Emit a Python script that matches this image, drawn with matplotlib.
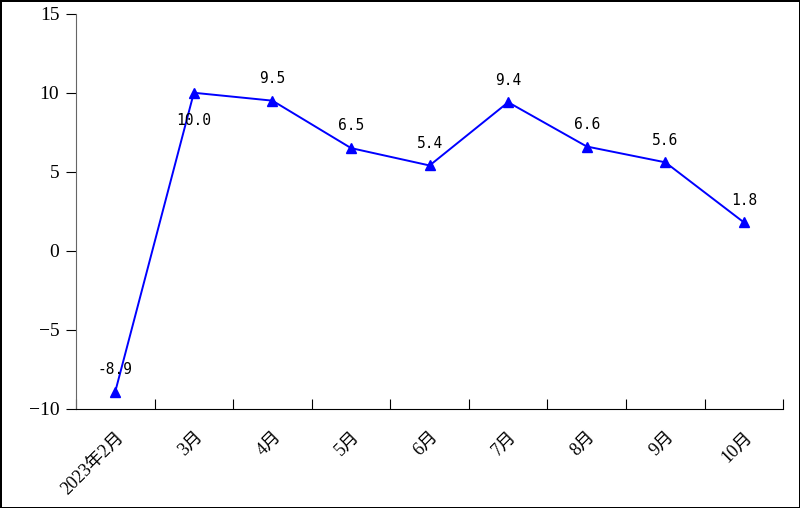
import matplotlib.pyplot as plt
import numpy as np

months = ["2023年2月", "3月", "4月", "5月", "6月", "7月", "8月", "9月", "10月"]
values = [-8.9, 10.0, 9.5, 6.5, 5.4, 9.4, 6.6, 5.6, 1.8]
yticks = [-10, -5, 0, 5, 10, 15]

plt.rcParams['font.family'] = ['Liberation Serif', 'Noto Sans CJK SC', 'DejaVu Sans']
plt.rcParams['axes.unicode_minus'] = True

fig = plt.figure(figsize=(8, 5.08), dpi=100)
fig.patch.set_edgecolor('black')
fig.patch.set_linewidth(2)

ax = fig.add_axes([0.095, 0.195, 0.884, 0.778])

x = np.arange(len(months))
ax.plot(
    x,
    values,
    color='#0000FF',
    linewidth=1.4,
    marker='^',
    markersize=7
)

# data labels, 10.0 sits below its point
for i, v in enumerate(values):
    dy = -20 if i == 1 else 16
    ax.annotate(f"{v:.1f}", (i, v), xytext=(0, dy), textcoords='offset points',
                ha='center', va='center', fontsize=10.5,
                family=['DejaVu Sans Mono', 'Noto Sans CJK SC'])

ax.set_xlim(-0.5, len(months) - 0.5)
ax.set_ylim(-10, 15)
ax.set_yticks(yticks)
ax.set_yticklabels([f"{t}".replace('-', '\u2212') for t in yticks], fontsize=14)

ax.set_xticks(np.arange(len(months) + 1) - 0.5)
ax.set_xticklabels([])
ax.set_xticks(x, minor=True)
ax.set_xticklabels(months, minor=True, rotation=45, ha='right',
                   rotation_mode='anchor', fontsize=13)
ax.tick_params(axis='x', which='major', direction='in', length=7)
ax.tick_params(axis='x', which='minor', length=0, pad=14)
ax.tick_params(axis='y', direction='out', length=7, pad=5)

ax.spines['top'].set_visible(False)
ax.spines['right'].set_visible(False)
ax.spines['left'].set_color('#666666')

fig.savefig("out.png", dpi=100)
